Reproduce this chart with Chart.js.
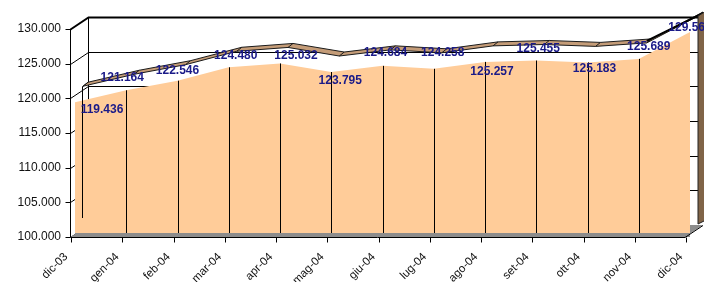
<!DOCTYPE html>
<html>
<head>
<meta charset="utf-8">
<script src="https://cdn.jsdelivr.net/npm/chart.js@4/dist/chart.umd.min.js"></script>
<style>
  html, body { margin: 0; padding: 0; background: #fff; }
  #wrap { width: 704px; height: 282px; }
</style>
</head>
<body>
<div id="wrap"><canvas id="areaChart"></canvas></div>
<script>
// dati
const mesi = ['dic-03', 'gen-04', 'feb-04', 'mar-04', 'apr-04', 'mag-04', 'giu-04',
              'lug-04', 'ago-04', 'set-04', 'ott-04', 'nov-04', 'dic-04'];
const valori = [119436, 121164, 122546, 124480, 125032, 123795, 124684,
                124258, 125257, 125455, 125183, 125689, 129560];
const yMin = 100000;
const yMax = 130000;
const yStep = 5000;

// spostamento etichette (stile, in pixel)
const labelShift = [[27, 7], [-4, -13], [0, -10], [7, -12], [16, -8], [9, 9], [3, -13],
                    [9, -16], [7, 10], [2, -12], [7, 6], [10, -12], [0, -4]];

function fmt(v) {
    return String(v).replace(/\B(?=(\d{3})+(?!\d))/g, '.');
}

// profondità 3D
const wallDx = 18, wallDy = -12;

const wall3d = {
    id: 'wall3d',
    beforeDatasetsDraw(chart) {
        const ctx = chart.ctx;
        const a = chart.chartArea;
        const y = chart.scales.y;
        const axX = a.left - 4.5;
        ctx.save();
        ctx.strokeStyle = '#000';
        ctx.lineWidth = 1;
        // linee della parete di fondo + diagonali della parete sinistra
        for (let v = yMin; v <= yMax; v += yStep) {
            const py = Math.round(y.getPixelForValue(v)) + 0.5;
            ctx.lineWidth = (v === yMax) ? 2 : 1;
            ctx.beginPath();
            ctx.moveTo(axX, py);
            ctx.lineTo(axX + wallDx, py + wallDy);
            ctx.lineTo(a.right + 8, py + wallDy);
            ctx.stroke();
        }
        // bordo sinistro della parete di fondo
        ctx.lineWidth = 1;
        ctx.beginPath();
        ctx.moveTo(axX + wallDx, y.getPixelForValue(yMax) + wallDy);
        ctx.lineTo(axX + wallDx, y.getPixelForValue(yMin) + wallDy);
        ctx.stroke();
        // pavimento
        ctx.fillStyle = '#8c8c8c';
        ctx.beginPath();
        ctx.moveTo(axX, a.bottom);
        ctx.lineTo(a.right - 5, a.bottom);
        ctx.lineTo(a.right + 13, a.bottom - 12);
        ctx.lineTo(axX + wallDx, a.bottom - 12);
        ctx.closePath();
        ctx.fill();
        ctx.restore();
    },
    afterDatasetsDraw(chart) {
        const ctx = chart.ctx;
        const a = chart.chartArea;
        const y = chart.scales.y;
        const pts = chart.getDatasetMeta(0).data;
        const axX = a.left - 4.5;
        const last = pts[pts.length - 1];
        ctx.save();

        // linee verticali dell'area
        ctx.strokeStyle = '#000';
        ctx.lineWidth = 1;
        pts.forEach((p, i) => {
            if (i === 0 || i === pts.length - 1) return;
            const x = Math.round(p.x) + 0.5;
            ctx.beginPath();
            ctx.moveTo(x, p.y);
            ctx.lineTo(x, a.bottom - 4);
            ctx.stroke();
        });
        // spigolo sinistro
        ctx.beginPath();
        ctx.moveTo(Math.round(pts[0].x + 7) + 0.5, pts[0].y - 16);
        ctx.lineTo(Math.round(pts[0].x + 7) + 0.5, a.bottom - 19);
        ctx.stroke();

        // striscia grigia del pavimento davanti
        ctx.fillStyle = '#8c8c8c';
        ctx.fillRect(a.left, a.bottom - 4, a.right - a.left, 4);

        // nastro superiore
        ctx.fillStyle = '#c49c78';
        ctx.strokeStyle = '#1a1a1a';
        ctx.lineWidth = 1;
        ctx.beginPath();
        pts.forEach((p, i) => {
            if (i === 0) ctx.moveTo(p.x + 8, p.y - 16);
            else ctx.lineTo(p.x + 8, p.y - 16);
        });
        for (let i = pts.length - 1; i >= 0; i--) {
            ctx.lineTo(pts[i].x + 13, pts[i].y - 20);
        }
        ctx.closePath();
        ctx.fill();
        ctx.stroke();
        // linee trasversali del nastro
        pts.forEach(p => {
            ctx.beginPath();
            ctx.moveTo(p.x + 8, p.y - 16);
            ctx.lineTo(p.x + 13, p.y - 20);
            ctx.stroke();
        });
        // ultimo tratto più marcato
        ctx.lineWidth = 2;
        ctx.strokeStyle = '#000';
        ctx.beginPath();
        ctx.moveTo(pts[pts.length - 2].x + 8, pts[pts.length - 2].y - 18);
        ctx.lineTo(last.x + 13, last.y - 19);
        ctx.stroke();

        // faccia finale destra
        ctx.fillStyle = '#806448';
        ctx.strokeStyle = '#222';
        ctx.lineWidth = 1;
        ctx.beginPath();
        ctx.moveTo(last.x + 8, last.y - 16);
        ctx.lineTo(last.x + 16, last.y - 21);
        ctx.lineTo(last.x + 16, a.bottom - 17);
        ctx.lineTo(last.x + 8, a.bottom - 13);
        ctx.closePath();
        ctx.fill();
        ctx.stroke();

        // asse y
        ctx.strokeStyle = '#000';
        ctx.lineWidth = 1;
        ctx.beginPath();
        ctx.moveTo(axX, y.getPixelForValue(yMax));
        ctx.lineTo(axX, a.bottom);
        ctx.stroke();
        for (let v = yMin; v <= yMax; v += yStep) {
            const py = Math.round(y.getPixelForValue(v)) + 0.5;
            ctx.beginPath();
            ctx.moveTo(axX - 5, py);
            ctx.lineTo(axX, py);
            ctx.stroke();
        }
        // asse x
        const by = Math.round(a.bottom) + 0.5;
        ctx.beginPath();
        ctx.moveTo(axX, by);
        ctx.lineTo(a.right - 5, by);
        ctx.lineTo(a.right + 13, by - 12);
        ctx.stroke();
        pts.forEach(p => {
            const x = Math.round(p.x - 4) + 0.5;
            ctx.beginPath();
            ctx.moveTo(x, by);
            ctx.lineTo(x, by + 5);
            ctx.stroke();
        });

        // etichette dei valori
        ctx.font = 'bold 12px "Liberation Sans", Arial, sans-serif';
        ctx.fillStyle = '#1a1a88';
        ctx.textAlign = 'center';
        ctx.textBaseline = 'middle';
        pts.forEach((p, i) => {
            const s = labelShift[i];
            ctx.fillText(fmt(valori[i]), p.x + s[0], p.y + s[1]);
        });
        ctx.restore();
    }
};

var ctx = document.getElementById('areaChart').getContext('2d');
var areaChart = new Chart(ctx, {
    type: 'line',
    data: {
        labels: mesi,
        datasets: [{
            label: 'Valore',
            data: valori,
            borderWidth: 0,
            borderColor: 'rgba(0,0,0,0)',
            backgroundColor: '#ffcc99',
            pointRadius: 0,
            tension: 0,
            fill: 'start'
        }]
    },
    options: {
        responsive: true,
        maintainAspectRatio: false,
        animation: false,
        layout: { padding: { top: 29, right: 14, left: 0, bottom: 0 } },
        plugins: { legend: { display: false }, tooltip: { enabled: false } },
        scales: {
            x: {
                offset: false,
                grid: { display: false, drawTicks: false },
                border: { display: false },
                ticks: {
                    autoSkip: false,
                    minRotation: 45,
                    maxRotation: 45,
                    padding: 13,
                    labelOffset: -9,
                    color: '#111',
                    font: { family: '"Liberation Sans", Arial, sans-serif', size: 11.5 }
                },
                afterFit: function (scale) {
                    scale.height = 45;
                    scale.paddingLeft = 0;
                    scale.paddingRight = 0;
                }
            },
            y: {
                min: yMin,
                max: yMax,
                grid: { display: false, drawTicks: false },
                border: { display: false },
                ticks: {
                    stepSize: yStep,
                    padding: 14,
                    color: '#111',
                    font: { family: '"Liberation Sans", Arial, sans-serif', size: 12 },
                    callback: function (v) { return fmt(v); }
                },
                afterFit: function (scale) { scale.width = 75; }
            }
        }
    },
    plugins: [wall3d]
});
</script>
</body>
</html>
